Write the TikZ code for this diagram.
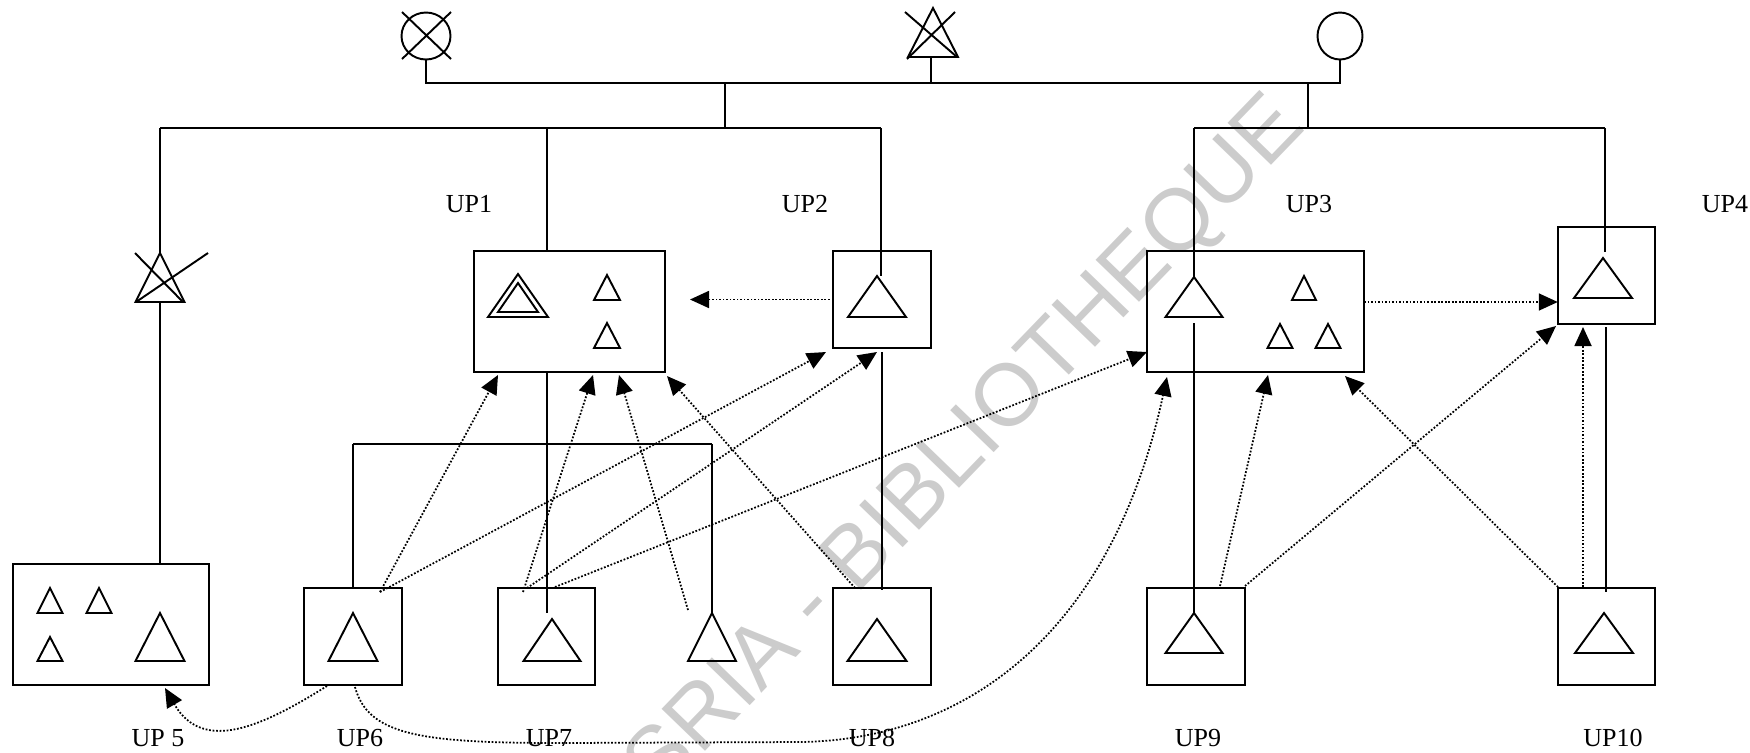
\documentclass[tikz,border=0pt]{standalone}
\usepackage{fontspec}
\setmainfont{Liberation Serif}
\newfontfamily\stampfont{Liberation Sans}
\usetikzlibrary{arrows.meta, shapes.geometric}

% up-triangle: apex x, apex y, half base, base y
\newcommand{\utri}[4]{\draw (#1,#2) -- ({#1-#3},#4) -- ({#1+#3},#4) -- cycle;}

\begin{document}
\begin{tikzpicture}[x=0.02cm, y=-0.02cm, line width=1.1pt,
  box/.style={draw, inner sep=0pt, outer sep=0pt},
  unit/.style={box, minimum width=1.95cm, minimum height=1.94cm},
  flow/.style={densely dotted, line width=1pt, -{Triangle[length=0.38cm, width=0.34cm]}},
  lbl/.style={inner sep=0pt, font=\fontsize{14.8}{17}\selectfont},
  stamp/.style={inner sep=0pt, text=black!20, rotate=46, anchor=east,
    font=\stampfont\fontsize{50}{52}\selectfont}]

  \useasboundingbox (0,0) rectangle (1750,752);

  % watermark
  \node[stamp] (wm) at (1292,112) {CODESRIA - BIBLIOTHEQUE};

  % top symbols
  \node[draw, ellipse, minimum width=0.98cm, minimum height=0.94cm, inner sep=0pt] (cx) at (426,36) {};
  \draw (402,12) -- (451,59) (451,12) -- (402,59);
  \utri{933}{8}{25}{57}
  \draw (905,12) -- (957,57) (955,12) -- (907,59);
  \coordinate (tx) at (931,57);
  \node[draw, ellipse, minimum width=0.9cm, minimum height=0.94cm, inner sep=0pt] (co) at (1340,36) {};

  % bus
  \coordinate (bl) at (426,83);
  \coordinate (br) at (1340,83);
  \draw (cx.south) -- (bl) -- (br) -- (co.south);
  \draw (tx) -- (tx |- bl);

  % boxes
  \node[box, minimum width=3.82cm, minimum height=2.42cm] (up1) at (569.5,311.5) {};
  \node[unit] (up2) at (882,299.5) {};
  \node[box, minimum width=4.34cm, minimum height=2.42cm] (up3) at (1255.5,311.5) {};
  \node[unit] (up4) at (1606.5,275.5) {};
  \node[box, minimum width=3.92cm, minimum height=2.42cm] (up5) at (111,624.5) {};
  \node[unit] (up6) at (353,636.5) {};
  \node[unit] (up7) at (546.5,636.5) {};
  \node[unit] (up8) at (882,636.5) {};
  \node[unit] (up9) at (1196,636.5) {};
  \node[unit] (up10) at (1606.5,636.5) {};

  % labels
  \node[lbl] (l1) at (469,204) {UP1};
  \node[lbl] (l2) at (805,204) {UP2};
  \node[lbl] (l3) at (1309,204) {UP3};
  \node[lbl] (l4) at (1725,204) {UP4};
  \node[lbl] (l5) at (158,738) {UP 5};
  \node[lbl] (l6) at (360,738) {UP6};
  \node[lbl] (l7) at (549,738) {UP7};
  \node[lbl] (l8) at (872,738) {UP8};
  \node[lbl] (l9) at (1198,738) {UP9};
  \node[lbl] (l10) at (1613,738) {UP10};

  % triangles
  \utri{518}{274}{30}{317}
  \utri{518}{283}{20}{312}
  \utri{607}{275}{13}{300}
  \utri{607}{323}{13}{348}
  \utri{877}{276}{29}{317}
  \utri{1194}{277}{28.5}{317}
  \utri{1304}{276}{12}{300}
  \utri{1280}{324}{12.5}{348}
  \utri{1328}{324}{12.5}{348}
  \utri{1603}{258}{29}{298}
  \utri{50}{588}{12.5}{613}
  \utri{99}{588}{12.5}{613}
  \utri{50}{637}{12.5}{661}
  \utri{160}{613}{24.5}{661}
  \utri{353}{613}{24.5}{661}
  \utri{552}{619}{28.5}{661}
  \utri{712}{613}{24}{661}
  \utri{877}{619}{29.5}{661}
  \utri{1194}{613}{28.5}{653}
  \utri{1604}{613}{29}{653}
  % crossed triangle, left branch
  \utri{160}{253}{24.5}{302}
  \draw (135,253) -- (183,302) (136,302) -- (208,253);

  % tree, left
  \draw (725,83) -- (725,128);
  \draw (160,128) -- (881,128);
  \draw (160,128) -- (160,253);
  \draw (160,303) -- (160,303 |- up5.north);
  \draw (547,128) -- (547,128 |- up1.north);
  \draw (547,128 |- up1.south) -- (547,613);
  \draw (881,128) -- (881,276);
  \draw (882,352) -- (882,590);
  \draw (353,444) -- (712,444);
  \draw (353,444) -- (up6.north);
  \draw (712,444) -- (712,613);
  % tree, right
  \draw (1308,83) -- (1308,128);
  \draw (1194,128) -- (1605,128);
  \draw (1194,128) -- (1194,277);
  \draw (1194,323) -- (1194,613);
  \draw (1605,128) -- (1605,252);
  \draw (1606,327) -- (1606,592);

  % dotted links
  \coordinate (o6a) at (380,592);
  \coordinate (o6b) at (327,686);
  \coordinate (o6c) at (355,687);
  \coordinate (o7a) at (523,592);
  \coordinate (o7b) at (527,588);
  \coordinate (o7c) at (555,587);
  \coordinate (ot) at (688,610);
  \coordinate (o8) at (855,588);
  \coordinate (o9a) at (1220,586);
  \coordinate (o9b) at (1245,586);
  \coordinate (o10a) at (1558,587);
  \coordinate (o10b) at (1583,587);

  \coordinate (i1a) at (498,375);
  \coordinate (i1b) at (593,375);
  \coordinate (i1c) at (619,375);
  \coordinate (i1d) at (667,376);
  \coordinate (i1e) at (690,299.5);
  \coordinate (i2a) at (826,352);
  \coordinate (i2b) at (877,352);
  \coordinate (i3a) at (1147,352);
  \coordinate (i3b) at (1167,377);
  \coordinate (i3c) at (1268,375);
  \coordinate (i3d) at (1345,376);
  \coordinate (i4a) at (1556,326);
  \coordinate (i4b) at (1583,327);
  \coordinate (i5) at (165,688);

  \draw[flow] (up2.west) -- (i1e);
  \draw[flow] (up3.east |- 0,302) -- (up4.west |- 0,302);
  \draw[flow] (o6a) -- (i1a);
  \draw[flow] (o6a) -- (i2a);
  \draw[flow] (o7a) -- (i1b);
  \draw[flow] (o7b) -- (i2b);
  \draw[flow] (o7c) -- (i3a);
  \draw[flow] (ot) -- (i1c);
  \draw[flow] (o8) -- (i1d);
  \draw[flow] (o9a) -- (i3c);
  \draw[flow] (o9b) -- (i4a);
  \draw[flow] (o10a) -- (i3d);
  \draw[flow] (o10b) -- (i4b);
  \draw[flow] (o6b) to[out=-148, in=-60, looseness=1.2] (i5);
  \draw[flow] (o6c) .. controls (368,735) and (420,743) .. (560,743) -- (800,742)
    .. controls (960,740) and (1110,640) .. (i3b);
\end{tikzpicture}
\end{document}
